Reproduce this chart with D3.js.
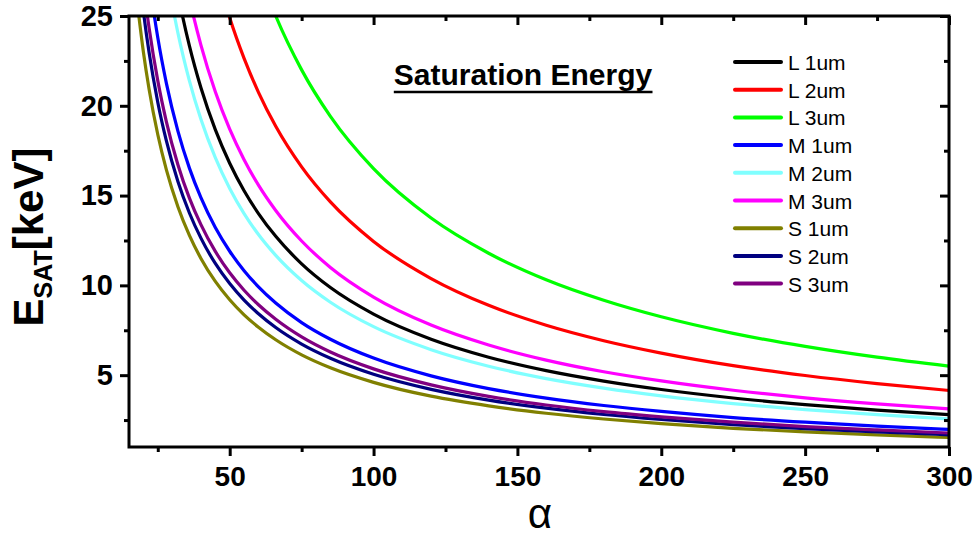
<!DOCTYPE html>
<html>
<head>
<meta charset="utf-8">
<script src="https://cdn.jsdelivr.net/npm/d3@7/dist/d3.min.js"></script>
<style>
  html, body { margin: 0; padding: 0; background: #fff; }
  svg { display: block; font-family: "Liberation Sans", Arial, sans-serif; }
</style>
</head>
<body>
<svg id="chart" width="978" height="538"></svg>
<script>
// Sampled alpha values (x) shared by every curve
const alpha = [18, 20, 22, 25, 28, 32, 36, 40, 45, 50, 55, 60, 66, 75, 85, 100, 120, 140, 160, 180, 200, 225, 250, 275, 300];

// Saturation energy [keV] per device size and thickness
const L1 = [46.67, 42.00, 38.18, 33.60, 30.00, 26.25, 23.33, 21.00, 18.67, 16.80, 15.27, 14.00, 12.73, 11.20, 9.88, 8.40, 7.00, 6.00, 5.25, 4.67, 4.20, 3.73, 3.36, 3.05, 2.80];
const L2 = [69.17, 62.25, 56.59, 49.80, 44.46, 38.91, 34.58, 31.13, 27.67, 24.90, 22.64, 20.75, 18.86, 16.60, 14.65, 12.45, 10.38, 8.89, 7.78, 6.92, 6.23, 5.53, 4.98, 4.53, 4.15];
const L3 = [91.67, 82.50, 75.00, 66.00, 58.93, 51.56, 45.83, 41.25, 36.67, 33.00, 30.00, 27.50, 25.00, 22.00, 19.41, 16.50, 13.75, 11.79, 10.31, 9.17, 8.25, 7.33, 6.60, 6.00, 5.50];
const M1 = [33.06, 29.75, 27.05, 23.80, 21.25, 18.59, 16.53, 14.88, 13.22, 11.90, 10.82, 9.92, 9.02, 7.93, 7.00, 5.95, 4.96, 4.25, 3.72, 3.31, 2.98, 2.64, 2.38, 2.16, 1.98];
const M2 = [42.78, 38.50, 35.00, 30.80, 27.50, 24.06, 21.39, 19.25, 17.11, 15.40, 14.00, 12.83, 11.67, 10.27, 9.06, 7.70, 6.42, 5.50, 4.81, 4.28, 3.85, 3.42, 3.08, 2.80, 2.57];
const M3 = [51.94, 46.75, 42.50, 37.40, 33.39, 29.22, 25.97, 23.38, 20.78, 18.70, 17.00, 15.58, 14.17, 12.47, 11.00, 9.35, 7.79, 6.68, 5.84, 5.19, 4.68, 4.16, 3.74, 3.40, 3.12];
const S1 = [25.56, 23.00, 20.91, 18.40, 16.43, 14.38, 12.78, 11.50, 10.22, 9.20, 8.36, 7.67, 6.97, 6.13, 5.41, 4.60, 3.83, 3.29, 2.88, 2.56, 2.30, 2.04, 1.84, 1.67, 1.53];
const S2 = [28.06, 25.25, 22.95, 20.20, 18.04, 15.78, 14.03, 12.63, 11.22, 10.10, 9.18, 8.42, 7.65, 6.73, 5.94, 5.05, 4.21, 3.61, 3.16, 2.81, 2.53, 2.24, 2.02, 1.84, 1.68];
const S3 = [29.72, 26.75, 24.32, 21.40, 19.11, 16.72, 14.86, 13.38, 11.89, 10.70, 9.73, 8.92, 8.11, 7.13, 6.29, 5.35, 4.46, 3.82, 3.34, 2.97, 2.68, 2.38, 2.14, 1.95, 1.78];

const seriesNames = ["L 1um", "L 2um", "L 3um", "M 1um", "M 2um", "M 3um", "S 1um", "S 2um", "S 3um"];
const seriesValues = [L1, L2, L3, M1, M2, M3, S1, S2, S3];
const seriesColors = ["#000000", "#ff0000", "#00ff00", "#0000ff", "#80ffff", "#ff00ff", "#808000", "#000080", "#800080"];

const xTicks = [50, 100, 150, 200, 250, 300];
const xMinorTicks = [25, 75, 125, 175, 225, 275];
const yTicks = [5, 10, 15, 20, 25];
const yMinorTicks = [2.5, 7.5, 12.5, 17.5, 22.5];

const titleText = "Saturation Energy";

// Layout
const W = 978, H = 538;
const plot = { left: 129, right: 949, top: 16, bottom: 447 };

const svg = d3.select("#chart");

const x = d3.scaleLinear().domain([15, 300]).range([plot.left, plot.right]);
const y = d3.scaleLinear().domain([1, 25]).range([plot.bottom, plot.top]);

// Clip curves to the plotting frame
svg.append("defs").append("clipPath").attr("id", "plot-clip")
  .append("rect")
  .attr("x", plot.left).attr("y", plot.top)
  .attr("width", plot.right - plot.left).attr("height", plot.bottom - plot.top);

const line = d3.line()
  .x(d => x(d[0]))
  .y(d => y(d[1]))
  .curve(d3.curveMonotoneX);

const curves = svg.append("g").attr("clip-path", "url(#plot-clip)");
seriesValues.forEach((vals, i) => {
  curves.append("path")
    .datum(alpha.map((a, j) => [a, vals[j]]))
    .attr("fill", "none")
    .attr("stroke", seriesColors[i])
    .attr("stroke-width", 3.2)
    .attr("d", line);
});

// Axes: outward ticks on bottom/left, inward mirrored ticks on top/right
const majorLen = 9, minorLen = 5;
function styleAxis(g) {
  g.select(".domain").remove();
  g.selectAll(".tick line").attr("stroke", "#000").attr("stroke-width", 3);
}

const xAxis = svg.append("g")
  .attr("transform", `translate(0,${plot.bottom})`)
  .call(d3.axisBottom(x).tickValues(xTicks).tickSize(majorLen).tickPadding(10).tickFormat(d3.format("d")));
styleAxis(xAxis);
xAxis.selectAll("text").attr("font-size", 28).attr("font-weight", "bold").attr("fill", "#000")
  .attr("font-family", "Liberation Sans, Arial, sans-serif");

svg.append("g").attr("transform", `translate(0,${plot.bottom})`)
  .call(d3.axisBottom(x).tickValues(xMinorTicks).tickSize(minorLen).tickFormat(""))
  .call(styleAxis);

const yAxis = svg.append("g")
  .attr("transform", `translate(${plot.left},0)`)
  .call(d3.axisLeft(y).tickValues(yTicks).tickSize(majorLen).tickPadding(7).tickFormat(d3.format("d")));
styleAxis(yAxis);
yAxis.selectAll("text").attr("font-size", 29).attr("font-weight", "bold").attr("fill", "#000")
  .attr("font-family", "Liberation Sans, Arial, sans-serif");

svg.append("g").attr("transform", `translate(${plot.left},0)`)
  .call(d3.axisLeft(y).tickValues(yMinorTicks).tickSize(minorLen).tickFormat(""))
  .call(styleAxis);

// Mirrored inward ticks
svg.append("g").attr("transform", `translate(0,${plot.top})`)
  .call(d3.axisBottom(x).tickValues(xTicks).tickSize(majorLen).tickFormat(""))
  .call(styleAxis);
svg.append("g").attr("transform", `translate(0,${plot.top})`)
  .call(d3.axisBottom(x).tickValues(xMinorTicks).tickSize(minorLen).tickFormat(""))
  .call(styleAxis);
svg.append("g").attr("transform", `translate(${plot.right},0)`)
  .call(d3.axisLeft(y).tickValues(yTicks).tickSize(majorLen).tickFormat(""))
  .call(styleAxis);
svg.append("g").attr("transform", `translate(${plot.right},0)`)
  .call(d3.axisLeft(y).tickValues(yMinorTicks).tickSize(minorLen).tickFormat(""))
  .call(styleAxis);

// Frame
svg.append("rect")
  .attr("x", plot.left).attr("y", plot.top)
  .attr("width", plot.right - plot.left).attr("height", plot.bottom - plot.top)
  .attr("fill", "none").attr("stroke", "#000").attr("stroke-width", 3);

// Axis titles
svg.append("text")
  .attr("x", (plot.left + plot.right) / 2 + 1)
  .attr("y", 528)
  .attr("text-anchor", "middle")
  .attr("font-size", 42)
  .attr("fill", "#000")
  .text("α");

const yTitle = svg.append("text")
  .attr("transform", `translate(43,237) rotate(-90)`)
  .attr("text-anchor", "middle")
  .attr("font-size", 42)
  .attr("font-weight", "bold")
  .attr("fill", "#000");
yTitle.append("tspan").text("E");
yTitle.append("tspan").attr("font-size", 25).attr("dy", 9).text("SAT");
yTitle.append("tspan").attr("dy", -9).text("[keV]");

// Title
const title = svg.append("text")
  .attr("x", 523).attr("y", 85)
  .attr("text-anchor", "middle")
  .attr("font-size", 30)
  .attr("font-weight", "bold")
  .attr("fill", "#000")
  .text(titleText);
const tb = title.node().getBBox();
svg.append("line")
  .attr("x1", tb.x).attr("x2", tb.x + tb.width)
  .attr("y1", 92).attr("y2", 92)
  .attr("stroke", "#000").attr("stroke-width", 2.5);

// Legend
const legend = svg.append("g");
seriesNames.forEach((name, i) => {
  const ly = 62 + i * 27.7;
  legend.append("line")
    .attr("x1", 735).attr("x2", 781)
    .attr("y1", ly).attr("y2", ly)
    .attr("stroke", seriesColors[i]).attr("stroke-width", 4)
    .attr("stroke-linecap", "round");
  legend.append("text")
    .attr("x", 788).attr("y", ly + 8)
    .attr("font-size", 21)
    .attr("fill", "#000")
    .text(name);
});
</script>
</body>
</html>
